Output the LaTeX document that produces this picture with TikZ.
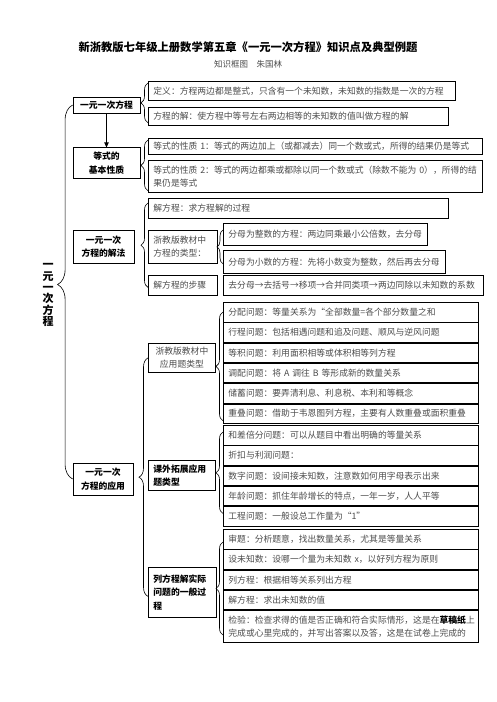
\documentclass[tikz,border=0pt]{standalone}
\usepackage{fontspec}
\setmainfont{Noto Sans CJK SC}
\usepackage{tikz}
\usetikzlibrary{positioning,arrows.meta,decorations.pathreplacing}
\newcommand{\txtfont}{\fontsize{8.8}{13.5}\selectfont}

\begin{document}
\begin{tikzpicture}[x=1pt,y=-1pt,>={Triangle[length=5pt,width=4.5pt]},
  topic/.style={draw,line width=0.8pt,font=\txtfont\bfseries,align=center,inner sep=0pt},
  leaf/.style={draw,line width=0.8pt,font=\txtfont,text=black!70,align=left,anchor=north west,
    inner xsep=5pt,inner ysep=0pt,minimum height=#1},
  leaf/.default=19.5pt,
  band/.style={leaf=#1,text width=245pt},
  band/.default=19.5pt,
  curly/.style={decorate,decoration={brace,amplitude=#1},line width=0.6pt},
  curly/.default=7pt]
\useasboundingbox (0,0) rectangle (496,702);
\node (title) at (248,47) {\fontsize{11.3}{13}\selectfont\bfseries 新浙教版七年级上册数学第五章《一元一次方程》知识点及典型例题};
\node (sub) at (248,64) [font=\fontsize{8.5}{10}\selectfont,text=black!70] {知识框图　朱国林};
\node (main) at (48,295) [font=\fontsize{11}{11.3}\selectfont\bfseries,align=center] {一\\元\\一\\次\\方\\程};

\node (eq) at (106.5,105) [topic,minimum width=67pt,minimum height=16pt] {一元一次方程};
\node (prop) [topic,below=34pt of eq,minimum width=67pt,minimum height=31pt] {等式的\\基本性质};
\node (solve) at (103.5,246.5) [topic,minimum width=61pt,minimum height=33pt] {一元一次\\方程的解法};
\node (app) at (103,479) [topic,minimum width=60pt,minimum height=32pt] {一元一次\\方程的应用};

\node (def) at (148,81) [leaf=19pt,text width=297pt] {定义：方程两边都是整式，只含有一个未知数，未知数的指数是一次的方程};
\node (sol) at (148,107) [leaf=18pt,text width=290pt] {方程的解：使方程中等号左右两边相等的未知数的值叫做方程的解};
\node (p1) at (148,138) [leaf=16pt,text width=324pt] {等式的性质 1：等式的两边加上（或都减去）同一个数或式，所得的结果仍是等式};
\node (p2) at (148,160) [leaf=32pt,text width=324pt] {等式的性质 2：等式的两边都乘或都除以同一个数或式（除数不能为 0），所得的结\\果仍是等式};

\node (s1) at (148,198) [leaf=20pt,text width=290pt] {解方程：求方程解的过程};
\node (s2) at (148,230) [leaf=33pt,text width=59pt] {浙教版教材中\\方程的类型：};
\node (s2a) at (223,223) [leaf=22pt,text width=194pt] {分母为整数的方程：两边同乘最小公倍数，去分母};
\node (s2b) at (223,250) [leaf=23pt,text width=212pt] {分母为小数的方程：先将小数变为整数，然后再去分母};
\node (s3) at (148,275) [leaf=20pt,text width=59pt] {解方程的步骤};
\node (s3a) at (223,275) [leaf=20pt,text width=250pt] {去分母→去括号→移项→合并同类项→两边同除以未知数的系数};

\node (a1) at (148,343) [leaf=29pt,text width=57pt,align=center] {浙教版教材中\\应用题类型};
\node (a2) at (148,460) [leaf=30pt,text width=57pt,text=black,font=\txtfont\bfseries] {课外拓展应用\\题类型};
\node (a3) at (148,567) [leaf=50pt,text width=58pt,text=black,font=\txtfont\bfseries] {列方程解实际\\问题的一般过\\程};

\node (r11) at (223,302) [band] {分配问题：等量关系为“全部数量=各个部分数量之和};
\node (r12) [band,below=0pt of r11] {行程问题：包括相遇问题和追及问题、顺风与逆风问题};
\node (r13) [band,below=0pt of r12] {等积问题：利用面积相等或体积相等列方程};
\node (r14) [band,below=0pt of r13] {调配问题：将 A 调往 B 等形成新的数量关系};
\node (r15) [band,below=0pt of r14] {储蓄问题：要弄清利息、利息税、本利和等概念};
\node (r16) [band,below=0pt of r15] {重叠问题：借助于韦恩图列方程，主要有人数重叠或面积重叠};

\node (r21) at (223,425) [band] {和差倍分问题：可以从题目中看出明确的等量关系};
\node (r22) [band,below=0pt of r21] {折扣与利润问题：};
\node (r23) [band,below=0pt of r22] {数字问题：设间接未知数，注意数如何用字母表示出来};
\node (r24) [band,below=0pt of r23] {年龄问题：抓住年龄增长的特点，一年一岁，人人平等};
\node (r25) [band,below=0pt of r24] {工程问题：一般设总工作量为“1”};

\node (r31) at (223,529) [band] {审题：分析题意，找出数量关系，尤其是等量关系};
\node (r32) [band,below=0pt of r31] {设未知数：设哪一个量为未知数 x，以好列方程为原则};
\node (r33) [band,below=0pt of r32] {列方程：根据相等关系列出方程};
\node (r34) [band,below=0pt of r33] {解方程：求出未知数的值};
\node (r35) [band=32pt,below=0pt of r34] {检验：检查求得的值是否正确和符合实际情形，这是在\textbf{\color{black}草稿纸}上\\完成或心里完成的，并写出答案以及答，这是在试卷上完成的};

\draw[->,line width=0.8pt] (eq) -- (prop);
\draw[curly=15pt,decoration={aspect=0.52}] (app.west) -- (eq.west);
\draw[curly] ([yshift=3pt]sol.south west) -- ([yshift=-2pt]def.north west);
\draw[curly] ([yshift=2pt]p2.south west) -- ([yshift=-2pt]p1.north west);
\draw[curly] ([yshift=-2pt]s3.west) -- ([yshift=-5pt]s1.north west);
\draw[curly=6pt] (s2.south -| s2a.west) -- (s2.north -| s2a.west);
\draw[curly=9pt] ([yshift=-4pt]a3.west) -- (a1.west);
\draw[curly] ([yshift=3pt]r16.south west) -- ([yshift=-10pt]r11.north west);
\draw[curly] ([yshift=13pt]r25.south west) -- ([yshift=-7pt]r21.north west);
\draw[curly] ([yshift=8pt]r35.south west) -- ([yshift=-13pt]r31.north west);
\end{tikzpicture}
\end{document}
